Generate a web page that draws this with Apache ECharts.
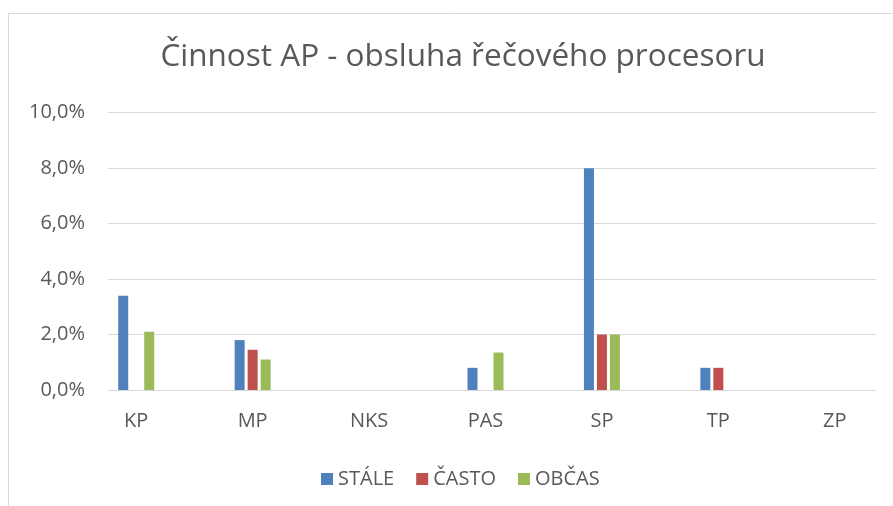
<!DOCTYPE html>
<html>
<head>
<meta charset="utf-8">
<script src="https://cdn.jsdelivr.net/npm/echarts@6/dist/echarts.min.js"></script>
<style>
  html, body { margin: 0; padding: 0; background: #fff; }
  #chart { width: 893px; height: 506px; }
</style>
</head>
<body>
<div id="chart"></div>
<script>
// data (percent)
const categories = ["KP", "MP", "NKS", "PAS", "SP", "TP", "ZP"];
const stale = [3.4, 1.8, 0, 0.8, 8.0, 0.8, 0];
const casto = [0, 1.45, 0, 0, 2.0, 0.8, 0];
const obcas = [2.1, 1.1, 0, 1.35, 2.0, 0, 0];
const seriesNames = ["STÁLE", "ČASTO", "OBČAS"];
const colors = ["#4F81BD", "#C0504D", "#9BBB59"];

const font = "'Open Sans', 'Noto Sans', sans-serif";
const textColor = "#595959";

const chart = echarts.init(document.getElementById("chart"));

const fmt = (v) => v.toFixed(1).replace(".", ",") + "%";

const barSeries = [stale, casto, obcas].map((d, i) => ({
  name: seriesNames[i],
  type: "bar",
  xAxisIndex: 1,
  yAxisIndex: 1,
  data: d,
  barWidth: 10,
  barGap: "30%",
  itemStyle: { color: colors[i] },
}));

chart.setOption({
  animation: false,
  color: colors,
  textStyle: { fontFamily: font },
  title: {
    text: "Činnost AP - obsluha řečového procesoru",
    left: 458,
    textAlign: "center",
    top: 36,
    textStyle: {
      fontFamily: font,
      fontSize: 31.5,
      fontWeight: "normal",
      color: textColor,
    },
  },
  legend: {
    data: seriesNames,
    top: 464,
    left: 316,
    itemWidth: 12,
    itemHeight: 12,
    itemGap: 22,
    icon: "rect",
    textStyle: { fontFamily: font, fontSize: 20, color: textColor },
  },
  grid: [
    // grid lines + value labels
    { left: 108, right: 17, top: 112.7, bottom: 116 },
    // bars + category labels (Excel spreads categories wider than the grid)
    { left: 78, right: -12, top: 112.7, bottom: 116 },
  ],
  xAxis: [
    { type: "category", gridIndex: 0, data: categories, show: false },
    {
      type: "category",
      gridIndex: 1,
      data: categories,
      axisLine: { show: false },
      axisTick: { show: false },
      axisLabel: {
        margin: 21,
        fontFamily: font,
        fontSize: 20,
        color: textColor,
      },
    },
  ],
  yAxis: [
    {
      type: "value",
      gridIndex: 0,
      min: 0,
      max: 10,
      interval: 2,
      axisLine: { show: false },
      axisTick: { show: false },
      splitLine: { lineStyle: { color: "#D9D9D9", width: 1 } },
      axisLabel: {
        margin: 23,
        fontFamily: font,
        fontSize: 20,
        color: textColor,
        formatter: fmt,
      },
    },
    {
      type: "value",
      gridIndex: 1,
      min: 0,
      max: 10,
      interval: 2,
      show: false,
      splitLine: { show: false },
    },
  ],
  graphic: [
    {
      type: "rect",
      shape: { x: 8.5, y: 13.5, width: 1000, height: 1000 },
      style: { fill: "none", stroke: "#D9D9D9", lineWidth: 1 },
      silent: true,
    },
  ],
  series: barSeries,
});
</script>
</body>
</html>
